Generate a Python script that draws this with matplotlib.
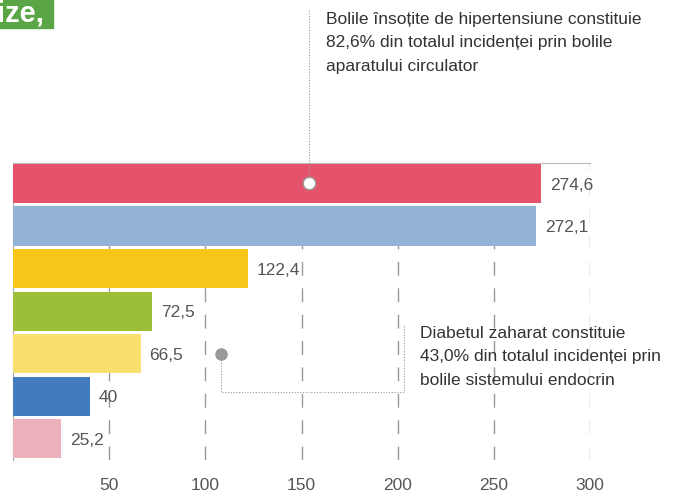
import matplotlib
matplotlib.use('Agg')
import matplotlib.pyplot as plt

# bar values, top to bottom
values = [274.6, 272.1, 122.4, 72.5, 66.5, 40, 25.2]
value_labels = ['274,6', '272,1', '122,4', '72,5', '66,5', '40', '25,2']
colors = ['#e5536b', '#93b3d6', '#f8c51b', '#9dbe39', '#f9df70', '#437cbe', '#ecb1ba']
xticks = [50, 100, 150, 200, 250, 300]

plt.rcParams['font.family'] = ['Liberation Sans', 'DejaVu Sans']

fig = plt.figure(figsize=(6.74, 4.96), dpi=100)
ax = fig.add_axes([13 / 674, 1 - 460 / 496, 577 / 674, 297 / 496])

ypos = list(range(len(values)))
ax.barh(ypos, values, height=0.92, color=colors, zorder=3)

for y, v, lab in zip(ypos, values, value_labels):
    ax.text(v + 4.5, y + 0.04, lab, va='center', ha='left', fontsize=12.5, color='#555555')

ax.set_xlim(0, 300)
ax.set_ylim(6.5, -0.48)

for x in xticks:
    ax.axvline(x, color='#999999', lw=1, ls=(0, (10, 9)), zorder=1)
    ax.text(x, -0.085, str(x), transform=ax.get_xaxis_transform(), ha='center', va='center',
            fontsize=12.5, color='#555555')

for s in ['right', 'bottom']:
    ax.spines[s].set_visible(False)
ax.spines['left'].set_color('#aaaaaa')
ax.spines['top'].set_color('#bbbbbb')
ax.set_xticks([])
ax.set_yticks([])

dots = (0, (1, 1.5))

# annotation 1: hypertension
ax.plot([154], [0], 'o', ms=9, mfc='white', mec='#999999', mew=1, zorder=5)
fig.add_artist(plt.Line2D([309 / 674, 309 / 674], [1 - 10 / 496, 1 - 178 / 496],
                          color='#999999', lw=0.8, ls=dots, zorder=4))
fig.text(326 / 674, 1 - 12 / 496, 'Bolile însoțite de hipertensiune constituie\n'
         '82,6% din totalul incidenței prin bolile\naparatului circulator',
         ha='left', va='top', fontsize=12.5, color='#333333', linespacing=1.7)

# annotation 2: diabetes
ax.plot([108], [4], 'o', ms=8, color='#999999', zorder=5)
ax.plot([108, 108, 203.5, 203.5], [4, 4.9, 4.9, 3.3], color='#999999', lw=0.8,
        ls=dots, zorder=4)
fig.text(420 / 674, 1 - 326 / 496, 'Diabetul zaharat constituie\n'
         '43,0% din totalul incidenței prin\nbolile sistemului endocrin',
         ha='left', va='top', fontsize=12.5, color='#333333', linespacing=1.7)

# header fragment (cut off at the left in the original too)
fig.patches.append(plt.Rectangle((0, 1 - 28 / 496), 53 / 674, 28 / 496, transform=fig.transFigure,
                                 color='#5aa545', zorder=0))
fig.text(-3 / 674, 1 - 13 / 496, 'ize,', ha='left', va='center', fontsize=21, fontweight='bold',
         color='white')

fig.savefig('out.png', dpi=100)
